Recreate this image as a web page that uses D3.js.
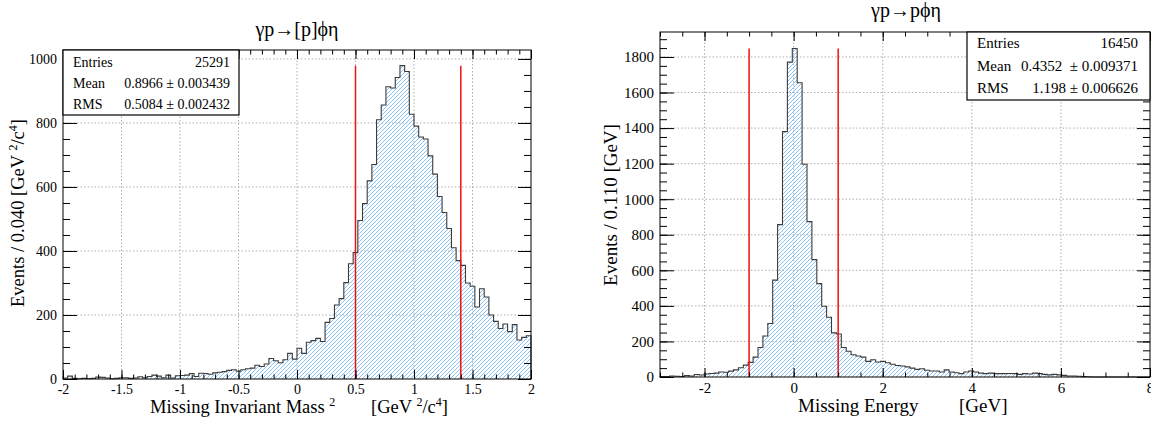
<!DOCTYPE html>
<html>
<head>
<meta charset="utf-8">
<script src="https://cdn.jsdelivr.net/npm/d3@7"></script>
<style>
  body { margin: 0; background: #fff; }
  text { font-family: "Liberation Serif", "DejaVu Serif", serif; fill: #000; }
</style>
</head>
<body>
<main></main>
<script>
// ---- data ----
const massRange = [-2, 2];
const massCounts = [
    3, 9, 2, 1, 2, 1, 2, 6, 5, 3,
    1, 2, 4, 4, 2, 3, 7, 4, 8, 12,
    9, 4, 12, 3, 10, 11, 12, 17, 8, 18,
    17, 15, 19, 21, 23, 27, 29, 24, 29, 32,
    34, 43, 39, 47, 64, 57, 51, 60, 80, 62,
    96, 80, 115, 120, 127, 117, 177, 189, 231, 251,
    301, 360, 395, 495, 548, 619, 670, 810, 856, 913,
    909, 942, 979, 961, 827, 790, 756, 750, 697, 640,
    570, 520, 470, 410, 370, 355, 300, 290, 225, 282,
    256, 200, 180, 158, 172, 148, 170, 122, 130, 135
];
const massCuts = [0.5, 1.4];
const massXTicks = [-2, -1.5, -1, -0.5, 0, 0.5, 1, 1.5, 2];
const massYTicks = [0, 200, 400, 600, 800, 1000];
const massStats = [['Entries', '25291'], ['Mean', '0.8966 \u00b1 0.003439'], ['RMS', '0.5084 \u00b1 0.002432']];

const energyRange = [-3, 8];
const energyCounts = [
    2, 3, 6, 4, 3, 8, 6, 14, 11, 17,
    20, 22, 28, 27, 33, 40, 52, 67, 82, 112,
    166, 231, 301, 545, 857, 1380, 1771, 1848, 1655, 1197,
    874, 660, 525, 398, 336, 248, 242, 166, 145, 125,
    118, 112, 88, 97, 84, 88, 80, 72, 65, 62,
    57, 50, 43, 46, 38, 34, 34, 28, 40, 28,
    24, 19, 28, 34, 28, 22, 19, 22, 19, 19,
    19, 20, 19, 15, 19, 17, 22, 19, 15, 12,
    15, 12, 9, 6, 6, 4, 2, 1, 0, 0,
    0, 0, 0, 0, 0, 0, 0, 0, 0, 0
];
const energyCuts = [-1, 1];
const energyXTicks = [-2, 0, 2, 4, 6, 8];
const energyYTicks = [0, 200, 400, 600, 800, 1000, 1200, 1400, 1600, 1800];
const energyStats = [['Entries', '16450'], ['Mean', '0.4352  \u00b1 0.009371'], ['RMS', '1.198 \u00b1 0.006626']];

const serif = '"Liberation Serif", "DejaVu Serif", serif';

const svg = d3.select('main')
    .append('svg')
    .attr('width', 1151)
    .attr('height', 421);
const defs = svg.append('defs');

// text with superscripts: parts = [[str, isSup], ...]
const richText = (sel, parts, supSize) => {
    let up = false;
    parts.forEach(([s, sup]) => {
        const t = sel.append('tspan').text(s);
        if (sup && !up) { t.attr('dy', -7).attr('font-size', supSize); up = true; }
        else if (sup) { t.attr('font-size', supSize); }
        else if (up) { t.attr('dy', 7); up = false; }
    });
};

const drawPanel = (p) => {
    const g = svg.append('g');
    const x = d3.scaleLinear().domain(p.range).range([p.left, p.right]);
    const y = d3.scaleLinear().domain([0, d3.max(p.counts) * 1.05]).range([p.bottom, p.top]);
    const ymax = y.domain()[1];

    // grid
    const grid = g.append('g')
        .attr('stroke', '#9a9a9a')
        .attr('stroke-width', 0.8)
        .attr('stroke-dasharray', '1.5,2');
    grid.selectAll('.gx')
        .data(p.xTicks.filter(d => d > p.range[0] && d < p.range[1]))
        .join('line')
        .attr('class', 'gx')
        .attr('x1', d => x(d)).attr('x2', d => x(d))
        .attr('y1', p.top).attr('y2', p.bottom);
    grid.selectAll('.gy')
        .data(p.yTicks.filter(d => d > 0))
        .join('line')
        .attr('class', 'gy')
        .attr('x1', p.left).attr('x2', p.right)
        .attr('y1', d => y(d)).attr('y2', d => y(d));

    // histogram: hatch lines clipped to the step area
    const n = p.counts.length;
    const w = (p.range[1] - p.range[0]) / n;
    const pts = p.counts.map((c, i) => [p.range[0] + i * w, c]);
    pts.push([p.range[1], p.counts[n - 1]]);
    const area = d3.area().curve(d3.curveStepAfter)
        .x(d => x(d[0])).y0(y(0)).y1(d => y(d[1]));
    defs.append('clipPath')
        .attr('id', p.id)
        .append('path')
        .attr('d', area(pts));
    const h = p.bottom - p.top;
    // keep x+y of every hatch line at 1 (mod 4) on the pixel grid
    let start = p.left - h - 4;
    start += ((1 - (start + p.bottom)) % 4 + 4) % 4;
    g.append('g')
        .attr('clip-path', `url(#${p.id})`)
        .attr('shape-rendering', 'crispEdges')
        .selectAll('line')
        .data(d3.range(start, p.right, 4))
        .join('line')
        .attr('x1', d => d).attr('y1', p.bottom)
        .attr('x2', d => d + h).attr('y2', p.top)
        .attr('stroke', '#8cc3f4')
        .attr('stroke-width', 1);
    g.append('path')
        .datum([[p.range[0], 0], ...pts, [p.range[1], 0]])
        .attr('d', d3.line().curve(d3.curveStepAfter)
            .x(d => x(d[0])).y(d => y(d[1])))
        .attr('fill', 'none')
        .attr('stroke', '#3c3c3c')
        .attr('stroke-width', 1.1);

    // cut lines
    g.append('g').selectAll('line')
        .data(p.cuts)
        .join('line')
        .attr('x1', d => x(d)).attr('x2', d => x(d))
        .attr('y1', y(0)).attr('y2', y(d3.max(p.counts)))
        .attr('stroke', '#f01010')
        .attr('stroke-width', 1.5);

    // axes, ticks pointing inwards
    const minorX = d3.range(p.range[0], p.range[1] + 1e-9, p.xMinor);
    const minorY = d3.range(0, ymax, p.yMinor);
    const fmt = d => String(d);
    const axes = [
        [d3.axisBottom(x).tickValues(p.xTicks).tickSize(-9).tickPadding(5).tickFormat(fmt), `translate(0,${p.bottom})`],
        [d3.axisBottom(x).tickValues(minorX).tickSize(-4.5).tickFormat(''), `translate(0,${p.bottom})`],
        [d3.axisTop(x).tickValues(p.xTicks).tickSize(-9).tickFormat(''), `translate(0,${p.top})`],
        [d3.axisTop(x).tickValues(minorX).tickSize(-4.5).tickFormat(''), `translate(0,${p.top})`],
        [d3.axisLeft(y).tickValues(p.yTicks).tickSize(-14).tickPadding(6).tickFormat(fmt), `translate(${p.left},0)`],
        [d3.axisLeft(y).tickValues(minorY).tickSize(-7).tickFormat(''), `translate(${p.left},0)`],
        [d3.axisRight(y).tickValues(p.yTicks).tickSize(-13).tickFormat(''), `translate(${p.right},0)`],
        [d3.axisRight(y).tickValues(minorY).tickSize(-7).tickFormat(''), `translate(${p.right},0)`]
    ];
    axes.forEach(([ax, tr]) => {
        const a = g.append('g').attr('transform', tr).call(ax);
        a.select('.domain').remove();
        a.attr('font-family', serif).attr('font-size', p.tickFont);
        a.selectAll('line').attr('stroke', '#000').attr('stroke-width', 1);
    });

    // frame
    g.append('rect')
        .attr('x', p.left).attr('y', p.top)
        .attr('width', p.right - p.left).attr('height', p.bottom - p.top)
        .attr('fill', 'none').attr('stroke', '#000').attr('stroke-width', 1);

    // stats box
    const s = p.stats;
    g.append('rect')
        .attr('x', s.x0).attr('y', s.y0)
        .attr('width', s.x1 - s.x0).attr('height', s.y1 - s.y0)
        .attr('fill', '#fff').attr('stroke', '#000').attr('stroke-width', 1.2);
    p.statRows.forEach(([k, v], i) => {
        g.append('text').attr('x', s.x0 + 10).attr('y', s.rows[i])
            .attr('font-size', s.font).text(k);
        g.append('text').attr('x', s.textRight).attr('y', s.rows[i])
            .attr('font-size', s.font).attr('text-anchor', 'end')
            .style('white-space', 'pre').text(v);
    });

    // title
    g.append('text').attr('x', p.title.x).attr('y', p.title.y)
        .attr('text-anchor', 'middle').attr('font-size', 20).text(p.title.text);

    // axis titles
    p.xLabels.forEach(l => {
        richText(g.append('text').attr('x', l.x).attr('y', l.y).attr('font-size', p.labelFont)
            .style('white-space', 'pre'), l.parts, 12);
    });
    richText(g.append('text')
        .attr('transform', `translate(${p.yLabel.x},${p.yLabel.y}) rotate(-90)`)
        .attr('text-anchor', 'middle').attr('font-size', p.labelFont)
        .style('white-space', 'pre'), p.yLabel.parts, 12);
};

drawPanel({
    id: 'clipMass',
    left: 63, right: 531, top: 50, bottom: 379,
    range: massRange, counts: massCounts, cuts: massCuts,
    xTicks: massXTicks, yTicks: massYTicks, xMinor: 0.1, yMinor: 50,
    tickFont: 14, labelFont: 18.5,
    statRows: massStats,
    stats: { x0: 63, x1: 239, y0: 50, y1: 115, rows: [67, 88, 108.5], textRight: 230, font: 14 },
    title: { x: 297, y: 36, text: '\u03b3p\u2192[p]\u03d5\u03b7' },
    xLabels: [
        { x: 150, y: 413, parts: [['Missing Invariant Mass ', false], ['2', true]] },
        { x: 371, y: 413, parts: [['[GeV ', false], ['2', true], ['/c', false], ['4', true], [']', false]] }
    ],
    yLabel: { x: 24, y: 213, parts: [['Events / 0.040 [GeV ', false], ['2', true], ['/c', false], ['4', true], [']', false]] }
});

drawPanel({
    id: 'clipEnergy',
    left: 660, right: 1150, top: 32, bottom: 377,
    range: energyRange, counts: energyCounts, cuts: energyCuts,
    xTicks: energyXTicks, yTicks: energyYTicks, xMinor: 0.5, yMinor: 50,
    tickFont: 15, labelFont: 19,
    statRows: energyStats,
    stats: { x0: 967, x1: 1150, y0: 32, y1: 100, rows: [48, 71, 93], textRight: 1138, font: 15 },
    title: { x: 906, y: 17, text: '\u03b3p\u2192p\u03d5\u03b7' },
    xLabels: [
        { x: 798, y: 412, parts: [['Missing Energy', false]] },
        { x: 959, y: 412, parts: [['[GeV]', false]] }
    ],
    yLabel: { x: 617, y: 205, parts: [['Events / 0.110 [GeV]', false]] }
});
</script>
</body>
</html>
